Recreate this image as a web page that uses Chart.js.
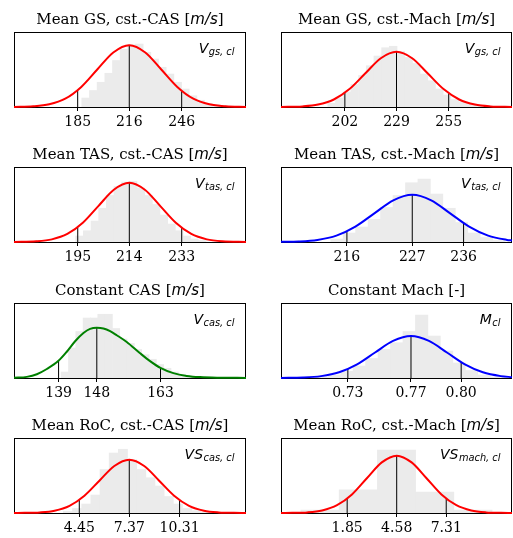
<!DOCTYPE html>
<html>
<head>
<meta charset="utf-8">
<script src="https://cdn.jsdelivr.net/npm/chart.js@4.4.1/dist/chart.umd.min.js"></script>
<style>
  html, body { margin: 0; padding: 0; background: #fff; overflow: hidden; }
  #wrap { position: relative; width: 513px; height: 538px; }
  canvas { position: absolute; }
</style>
</head>
<body>
<div id="wrap"></div>
<script>
// panels go row by row, left (cst.-CAS) then right (cst.-Mach)
const titles = ['Mean GS, cst.-CAS', 'Mean GS, cst.-Mach', 'Mean TAS, cst.-CAS', 'Mean TAS, cst.-Mach',
                'Constant CAS', 'Constant Mach [-]', 'Mean RoC, cst.-CAS', 'Mean RoC, cst.-Mach'];
const units = ['m/s', 'm/s', 'm/s', 'm/s', 'm/s', null, 'm/s', 'm/s'];
const symbols = ['V', 'V', 'V', 'V', 'V', 'M', 'VS', 'VS'];
const subs = ['gs, cl', 'gs, cl', 'tas, cl', 'tas, cl', 'cas, cl', 'cl', 'cas, cl', 'mach, cl'];
const colors = ['#ff0000', '#ff0000', '#ff0000', '#0000ff', '#008000', '#0000ff', '#ff0000', '#ff0000'];

const xMin = [148.1, 169.8, 171.7, 204.7, 128.5, 0.6892, 0.635, -1.797];
const xMax = [284.15, 287.7, 256.5, 244.3, 183.13, 0.8319, 14.19, 10.935];

// mean - std, mean, mean + std
const tickValues = [
  [185.44, 215.7, 246.43], [202.4, 228.75, 255.4], [195.0, 213.85, 233.0], [216.0, 227.2, 236.0],
  [139.0, 148.0, 163.0], [0.7305, 0.7695, 0.8005], [4.45, 7.37, 10.31], [1.85, 4.58, 7.31]
];
const tickLabels = [
  ['185', '216', '246'], ['202', '229', '255'], ['195', '214', '233'], ['216', '227', '236'],
  ['139', '148', '163'], ['0.73', '0.77', '0.80'], ['4.45', '7.37', '10.31'], ['1.85', '4.58', '7.31']
];
// height of the curve at each tick (percent of panel height)
const lineHeights = [
  [22.5, 82.4, 21.6], [19.0, 73.6, 18.4], [19.8, 79, 18.9], [14.3, 63, 25.2],
  [22.9, 67, 13.5], [12.0, 56, 21.1], [17.5, 71, 17.2], [19.3, 76.5, 19.3]
];

const histCenters = [
  [190.1, 194.6, 199.1, 203.6, 208.1, 212.6, 217.1, 221.6, 226.1, 230.6, 235.1, 239.6, 244.1, 248.6, 253.1, 257.6, 262.1, 266.6, 271.1],
  [195.65, 199.58, 203.5, 207.43, 211.35, 215.28, 219.2, 223.13, 227.05, 230.98, 234.9, 238.83, 242.75, 246.68, 250.6, 254.53, 258.45, 262.38, 266.3, 270.23],
  [195.65, 198.45, 201.25, 204.05, 206.85, 209.65, 212.45, 215.25, 218.05, 220.86, 223.66, 226.46, 229.26, 232.06, 234.86, 237.66, 240.46],
  [214.29, 216.42, 218.56, 220.70, 222.83, 224.97, 227.11, 229.24, 231.38, 233.52, 235.65, 237.79, 239.93, 242.06],
  [140.46, 142.19, 143.91, 145.64, 147.36, 149.09, 150.81, 152.54, 154.26, 155.99, 157.71, 159.44, 161.16, 162.89, 164.61, 166.34, 168.06, 169.79, 171.51, 173.24],
  [0.7145, 0.7222, 0.7299, 0.7376, 0.7453, 0.7530, 0.7607, 0.7684, 0.7761, 0.7838, 0.7915, 0.7992, 0.8069, 0.8146, 0.8223],
  [3.785, 4.320, 4.856, 5.391, 5.927, 6.462, 6.998, 7.533, 8.069, 8.604, 9.140, 9.675, 10.211, 10.746, 11.281, 11.817],
  [0.352, 2.463, 4.569, 6.675, 8.786]
];
const histHeights = [
  [12, 22, 33, 45, 62, 77, 83, 84, 73, 64, 53, 44, 33, 24, 15, 9, 5, 3, 2],
  [5, 12, 20, 30, 42, 55, 68, 79, 81, 74, 66, 58, 44, 35, 24, 16, 10, 7, 5, 3],
  [8, 15, 28, 45, 62, 74, 80, 81, 72, 62, 50, 36, 24, 15, 8, 4, 2],
  [4, 12, 20, 30, 46, 62, 79, 84, 64, 45, 26, 12, 6, 2],
  [8, 40, 62, 80, 80, 85, 85, 66, 52, 46, 38, 31, 25, 18, 13, 8, 5, 3, 2, 1],
  [1, 4, 9, 16, 26, 38, 47, 62, 84, 56, 36, 20, 10, 4, 1],
  [2, 6, 12, 24, 58, 80, 85, 71, 58, 47, 36, 22, 12, 6, 3, 1],
  [4, 31, 84, 28, 4]
];

const curveX = [
  [148.1, 159.39, 168.78, 178.16, 187.55, 196.93, 206.32, 215.7, 225.09, 234.47, 243.86, 253.24, 262.63, 272.01, 284.15],
  [169.8, 180.75, 188.75, 196.75, 204.75, 212.75, 220.75, 228.75, 236.75, 244.75, 252.75, 260.75, 268.75, 276.75, 287.7],
  [171.7, 179.86, 185.53, 191.19, 196.86, 202.52, 208.19, 213.85, 219.52, 225.18, 230.85, 236.51, 242.18, 247.84, 256.5],
  [204.7, 207.7, 210.95, 214.2, 217.45, 220.7, 223.95, 227.2, 230.45, 233.7, 236.95, 240.2, 243.45, 244.3],
  [128.5, 131.52, 133.88, 136.23, 138.97, 140.93, 142.89, 144.85, 146.42, 148.0, 149.56, 151.13, 152.70, 155.05, 158.19, 160.54, 162.97, 166.03, 169.17, 172.31, 177.01, 183.13],
  [0.6892, 0.7029, 0.714, 0.7251, 0.7362, 0.7473, 0.7584, 0.7695, 0.7806, 0.7917, 0.8028, 0.8139, 0.825, 0.8319],
  [0.635, 1.259, 2.132, 3.005, 3.878, 4.751, 5.624, 6.497, 7.37, 8.243, 9.116, 9.989, 10.862, 11.735, 12.608, 13.481, 14.19],
  [-1.797, -1.174, -0.352, 0.47, 1.292, 2.114, 2.936, 3.758, 4.58, 5.402, 6.224, 7.046, 7.868, 8.69, 9.512, 10.334, 10.935]
];
const curveY = [
  [0.1, 0.9, 3.6, 11.1, 26.8, 50.0, 72.7, 82.4, 72.7, 50.0, 26.8, 11.1, 3.6, 0.9, 0.1],
  [0.1, 0.8, 3.2, 10.0, 23.9, 44.6, 65.0, 73.6, 65.0, 44.6, 23.9, 10.0, 3.2, 0.8, 0.1],
  [0.1, 0.9, 3.5, 10.7, 25.7, 47.9, 69.7, 79, 69.7, 47.9, 25.7, 10.7, 3.5, 0.9, 0.1],
  [0.2, 0.7, 2.8, 8.5, 20.5, 38.2, 55.6, 63, 55.6, 38.2, 20.5, 8.5, 2.8, 2.0],
  [0.2, 1.5, 5, 12, 22.9, 35, 49, 60, 65.5, 67, 66, 62.5, 57, 48, 33, 22.5, 13.5, 6.5, 2.8, 1.2, 0.4, 0.1],
  [0.1, 0.6, 2.5, 7.6, 18.2, 34.0, 49.4, 56, 49.4, 34.0, 18.2, 7.6, 2.5, 1.1],
  [0.03, 0.2, 0.8, 3.1, 9.6, 23.1, 43.1, 62.7, 71, 62.7, 43.1, 23.1, 9.6, 3.1, 0.8, 0.2, 0.03],
  [0.04, 0.2, 0.8, 3.4, 10.4, 24.8, 46.4, 67.5, 76.5, 67.5, 46.4, 24.8, 10.4, 3.4, 0.8, 0.2, 0.04]
];

// layout of the 4x2 grid
const colX = [0, 258], colW = [258, 255];
const padL = [14, 23], padR = [12, 1];
const rowY = [0, 135, 271, 406];
const TITLE_SPACE = 32, AXIS_SPACE = 26, PANEL_H = 75;

const SERIF = '"DejaVu Serif", serif';
const SANS = '"DejaVu Sans", sans-serif';

function makeDeco(i, histIndex) {
  return {
    id: 'deco' + i,
    afterDatasetDraw(chart, args) {
      if (args.index !== histIndex) return;
      const a = chart.chartArea, ctx = chart.ctx;
      ctx.save();
      ctx.strokeStyle = '#000';
      ctx.lineWidth = 1;
      ctx.strokeRect(Math.round(a.left) + 0.5, Math.round(a.top) + 0.5,
                     Math.round(a.right) - Math.round(a.left) - 1, Math.round(a.bottom) - Math.round(a.top));
      ctx.restore();
    },
    afterDraw(chart) {
      const a = chart.chartArea, ctx = chart.ctx;
      ctx.save();
      ctx.fillStyle = '#000';
      ctx.textBaseline = 'alphabetic';
      // title with italic unit
      const parts = units[i]
        ? [[titles[i] + ' [', '15px ' + SERIF], [units[i], 'italic 15px ' + SANS], [']', '15px ' + SERIF]]
        : [[titles[i], '15px ' + SERIF]];
      let total = 0;
      parts.forEach(p => { ctx.font = p[1]; p.push(ctx.measureText(p[0]).width); total += p[2]; });
      let x = (a.left + a.right) / 2 - total / 2;
      const ty = a.top - 8.5;
      parts.forEach(p => { ctx.font = p[1]; ctx.fillText(p[0], x, ty); x += p[2]; });
      // variable symbol with subscript
      ctx.font = 'italic 14px ' + SANS;
      const wMain = ctx.measureText(symbols[i]).width;
      ctx.font = 'italic 9.8px ' + SANS;
      const wSub = ctx.measureText(subs[i]).width;
      const xr = a.left + 0.95 * (a.right - a.left);
      const by = a.top + 20.5;
      ctx.font = 'italic 14px ' + SANS;
      ctx.fillText(symbols[i], xr - wSub - wMain - 0.5, by);
      ctx.font = 'italic 9.8px ' + SANS;
      ctx.fillText(subs[i], xr - wSub, by + 2.8);
      ctx.restore();
    }
  };
}

const wrap = document.getElementById('wrap');

for (let i = 0; i < 8; i++) {
  const col = i % 2, row = Math.floor(i / 2);
  const cv = document.createElement('canvas');
  cv.width = colW[col];
  cv.height = TITLE_SPACE + PANEL_H + AXIS_SPACE;
  cv.style.left = colX[col] + 'px';
  cv.style.top = rowY[row] + 'px';
  wrap.appendChild(cv);

  const datasets = [];
  datasets.push({
    type: 'line',
    data: curveX[i].map((x, j) => ({x: x, y: curveY[i][j]})),
    borderColor: colors[i],
    borderWidth: 2,
    pointRadius: 0,
    cubicInterpolationMode: 'monotone',
    clip: false,
    order: 0
  });
  tickValues[i].forEach((v, j) => {
    datasets.push({
      type: 'line',
      data: [{x: v, y: 0}, {x: v, y: lineHeights[i][j]}],
      borderColor: '#000',
      borderWidth: 1,
      pointRadius: 0,
      order: 1
    });
  });
  datasets.push({
    type: 'bar',
    data: histCenters[i].map((x, j) => ({x: x, y: histHeights[i][j]})),
    backgroundColor: '#ebebeb',
    borderWidth: 0,
    barPercentage: 1,
    categoryPercentage: 1,
    order: 2
  });
  const histIndex = datasets.length - 1;

  new Chart(cv, {
    type: 'bar',
    data: { datasets: datasets },
    options: {
      responsive: false,
      animation: false,
      devicePixelRatio: 1,
      events: [],
      layout: { padding: { left: padL[col], right: padR[col], top: TITLE_SPACE, bottom: 0 } },
      plugins: { legend: { display: false }, tooltip: { enabled: false }, title: { display: false } },
      scales: {
        x: {
          type: 'linear',
          min: xMin[i],
          max: xMax[i],
          offset: false,
          afterBuildTicks: ax => { ax.ticks = tickValues[i].map(v => ({value: v})); },
          afterFit: ax => { ax.height = AXIS_SPACE; },
          grid: { display: true, offset: false, drawOnChartArea: false, drawTicks: true, tickLength: 4, color: '#000', lineWidth: 1 },
          border: { display: false },
          ticks: {
            autoSkip: false,
            maxRotation: 0,
            padding: 3,
            color: '#000',
            font: { family: SERIF, size: 14 },
            callback: (v, j) => tickLabels[i][j]
          }
        },
        y: { display: false, min: 0, max: 100 }
      }
    },
    plugins: [makeDeco(i, histIndex)]
  });
}
</script>
</body>
</html>
